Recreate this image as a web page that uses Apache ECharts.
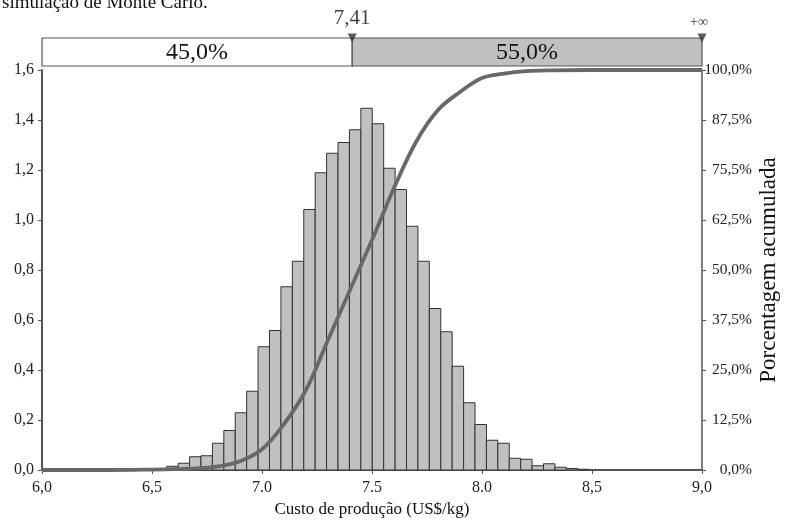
<!DOCTYPE html>
<html>
<head>
<meta charset="utf-8">
<script src="https://cdn.jsdelivr.net/npm/echarts@6/dist/echarts.min.js"></script>
<style>
  html, body { margin: 0; padding: 0; background: #fff; }
  #chart { width: 800px; height: 521px; }
</style>
</head>
<body>
<div id="chart"></div>
<script>
// --- dados ---
const binEdges = [6.4113, 6.4632, 6.5151, 6.567, 6.6189, 6.6708, 6.7227, 6.7746, 6.8265, 6.8784,
  6.9303, 6.9822, 7.0341, 7.086, 7.1379, 7.1898, 7.2417, 7.2936, 7.3455, 7.3974,
  7.4493, 7.5012, 7.5531, 7.605, 7.6569, 7.7088, 7.7607, 7.8126, 7.8645, 7.9164,
  7.9683, 8.0202, 8.0721, 8.124, 8.1759, 8.2278, 8.2797, 8.3316, 8.3835, 8.4354, 8.4873];
const density = [0.006, 0.002, 0.001, 0.015, 0.027, 0.053, 0.057, 0.107, 0.158, 0.229,
  0.315, 0.493, 0.558, 0.733, 0.835, 1.042, 1.189, 1.267, 1.310, 1.361,
  1.447, 1.385, 1.207, 1.122, 0.975, 0.835, 0.646, 0.553, 0.415, 0.269,
  0.182, 0.119, 0.107, 0.047, 0.043, 0.017, 0.025, 0.011, 0.006, 0.003];

const cdfX = [6.0, 6.3, 6.5, 6.6, 6.7, 6.8, 6.9, 7.0, 7.1, 7.2, 7.3, 7.4, 7.5, 7.6, 7.7, 7.8, 7.9, 8.0, 8.1, 8.2, 8.3, 8.5, 9.0];
const cdfPct = [0, 0, 0.1, 0.2, 0.4, 0.9, 2.2, 5.2, 11.5, 20, 32.5, 45, 57.5, 70.5, 82, 90, 94.5, 98, 99.1, 99.7, 99.9, 100, 100];

const xTickValues = [6, 6.5, 7, 7.5, 8, 8.5, 9];
const xTickLabels = ['6,0', '6,5', '7.0', '7.5', '8.0', '8,5', '9,0'];
const rightTickLabels = ['0,0%', '12,5%', '25,0%', '37,5%', '50,0%', '62,5%', '75,5%', '87,5%', '100,0%'];

const cutValue = 7.41;
const cutPct = 45;
const bandParts = [
  { from: 6, to: 7.41, text: '45,0%', fill: '#ffffff' },
  { from: 7.41, to: 9, text: '55,0%', fill: '#c0c0c0' }
];
const markers = [
  { x: 7.41, text: '7,41', size: 21 },
  { x: 9, text: '+∞', size: 14 }
];

const FONT = 'Liberation Serif';
const chart = echarts.init(document.getElementById('chart'));

const histData = density.map((h, i) => [binEdges[i], binEdges[i + 1], h]);

chart.setOption({
  animation: false,
  backgroundColor: '#fff',
  title: {
    text: 'simulação de Monte Carlo.',
    left: -3, top: -11,
    textStyle: { fontFamily: FONT, fontSize: 19, fontWeight: 'normal', color: '#111' }
  },
  grid: [
    { left: 42, right: 98, top: 70, bottom: 51, outerBoundsMode: 'none' },
    { left: 42, right: 98, top: 38, height: 28, outerBoundsMode: 'none' }
  ],
  xAxis: [
    {
      gridIndex: 0, type: 'value', min: 6, max: 9, interval: 0.5,
      name: 'Custo de produção (US$/kg)', nameLocation: 'middle', nameGap: 31,
      nameTextStyle: { fontFamily: FONT, fontSize: 17, color: '#111' },
      axisLine: { lineStyle: { color: '#555', width: 2 } },
      axisTick: { length: 4, lineStyle: { color: '#555' } },
      axisLabel: {
        fontFamily: FONT, fontSize: 16, color: '#222', margin: 10,
        formatter: v => {
          const i = xTickValues.findIndex(t => Math.abs(t - v) < 1e-6);
          return i >= 0 ? xTickLabels[i] : '';
        }
      },
      splitLine: { show: false }
    },
    { gridIndex: 1, type: 'value', min: 6, max: 9, show: false }
  ],
  yAxis: [
    {
      gridIndex: 0, type: 'value', min: 0, max: 1.6, interval: 0.2,
      axisLine: { show: true, lineStyle: { color: '#555', width: 2 } },
      axisTick: { show: true, length: 4, lineStyle: { color: '#555' } },
      axisLabel: {
        fontFamily: FONT, fontSize: 16, color: '#222', margin: 8,
        formatter: v => v.toFixed(1).replace('.', ',')
      },
      splitLine: { show: false }
    },
    {
      gridIndex: 0, type: 'value', min: 0, max: 100, interval: 12.5, position: 'right',
      name: 'Porcentagem acumulada', nameLocation: 'middle', nameGap: 55, nameRotate: 90,
      nameMoveOverlap: false,
      nameTextStyle: { fontFamily: FONT, fontSize: 23, color: '#111' },
      axisLine: { show: true, lineStyle: { color: '#555', width: 1.5 } },
      axisTick: { show: true, length: 4, lineStyle: { color: '#555' } },
      axisLabel: {
        fontFamily: FONT, fontSize: 15.5, color: '#222', margin: 50, align: 'right',
        formatter: v => rightTickLabels[Math.round(v / 12.5)] || ''
      },
      splitLine: { show: false }
    },
    { gridIndex: 1, type: 'value', min: 0, max: 1, show: false }
  ],
  series: [
    {
      name: 'hist', type: 'custom', xAxisIndex: 0, yAxisIndex: 0,
      data: histData, z: 2,
      renderItem: (params, api) => {
        const p0 = api.coord([api.value(0), api.value(2)]);
        const p1 = api.coord([api.value(1), 0]);
        return {
          type: 'rect',
          shape: { x: p0[0], y: p0[1], width: p1[0] - p0[0], height: p1[1] - p0[1] },
          style: { fill: '#c0c0c0', stroke: '#333', lineWidth: 1 }
        };
      }
    },
    {
      name: 'cdf', type: 'line', xAxisIndex: 0, yAxisIndex: 1,
      data: cdfX.map((x, i) => [x, cdfPct[i]]),
      smooth: 0.35, showSymbol: false, z: 4,
      lineStyle: { color: '#686868', width: 3.8 },
      markLine: {
        silent: true, symbol: 'none', label: { show: false },
        lineStyle: { color: '#555', width: 1, type: 'solid' },
        data: [[{ coord: [cutValue, cutPct] }, { coord: [cutValue, 101] }]]
      }
    },
    {
      name: 'band', type: 'custom', xAxisIndex: 1, yAxisIndex: 2,
      data: bandParts.map(b => [b.from, b.to, b.text, b.fill]), z: 3,
      renderItem: (params, api) => {
        const b = bandParts[params.dataIndex];
        const p0 = api.coord([b.from, 1]);
        const p1 = api.coord([b.to, 0]);
        return {
          type: 'group',
          children: [
            {
              type: 'rect',
              shape: { x: p0[0], y: p0[1], width: p1[0] - p0[0], height: p1[1] - p0[1] },
              style: { fill: b.fill, stroke: '#555', lineWidth: 1.2 }
            },
            {
              type: 'text',
              style: {
                x: (p0[0] + p1[0]) / 2, y: (p0[1] + p1[1]) / 2 + 1,
                text: b.text, fill: '#111', font: '24px "Liberation Serif"',
                align: 'center', verticalAlign: 'middle'
              }
            }
          ]
        };
      }
    },
    {
      name: 'markers', type: 'scatter', xAxisIndex: 1, yAxisIndex: 2, z: 5,
      symbol: 'triangle', symbolRotate: 180, symbolSize: [9, 9],
      itemStyle: { color: '#333' },
      data: markers.map(m => ({
        value: [m.x, 1],
        label: {
          show: true, position: 'top', distance: m.size > 15 ? 5 : 4,
          offset: m.size > 15 ? [0, 0] : [-3, 0],
          formatter: m.text, fontFamily: FONT, fontSize: m.size, color: '#111'
        }
      }))
    }
  ]
});
</script>
</body>
</html>
